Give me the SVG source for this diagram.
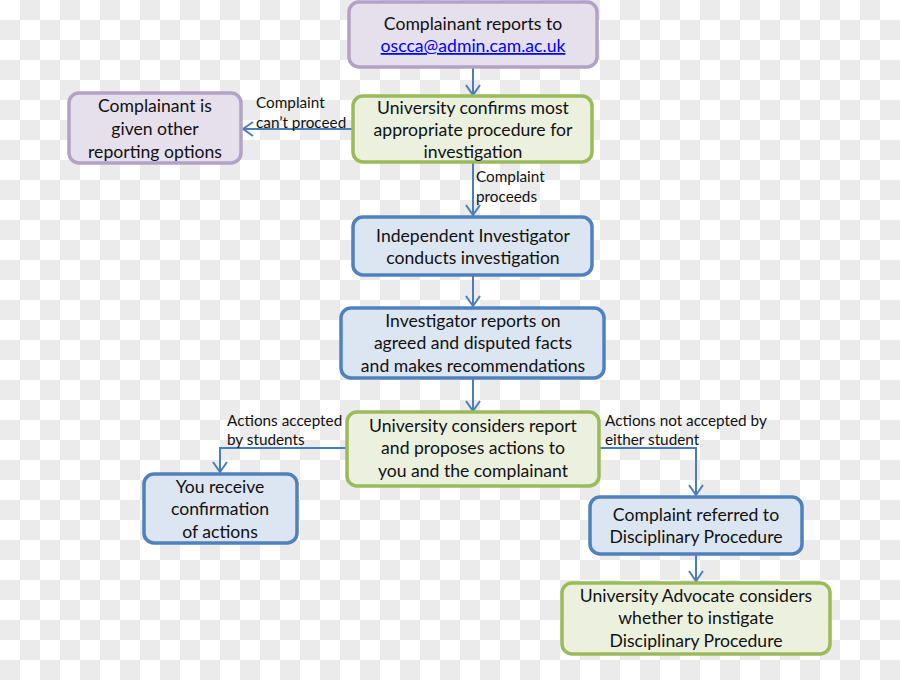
<svg xmlns="http://www.w3.org/2000/svg" width="900" height="680" viewBox="0 0 900 680">
<defs>
<pattern id="chk" x="0" y="0" width="40" height="40" patternUnits="userSpaceOnUse">
<rect width="40" height="40" fill="#ffffff"/>
<rect x="20" y="0" width="20" height="20" fill="#ebebeb"/>
<rect x="0" y="20" width="20" height="20" fill="#ebebeb"/>
</pattern>
<marker id="arr" viewBox="0 0 12 16" refX="11" refY="8" markerWidth="12" markerHeight="16" markerUnits="userSpaceOnUse" orient="auto">
<path d="M1,1 L11,8 L1,15" fill="none" stroke="#4a7ebb" stroke-width="2"/>
</marker>
</defs>
<style>
.purple{fill:#e5e0ec;stroke:#b3a2c7;stroke-width:3.5}
.green{fill:#ebf1de;stroke:#9bbb59;stroke-width:3.5}
.blue{fill:#dce6f2;stroke:#4f81bd;stroke-width:3.5}
.t{font-family:Lato,"Open Sans","Liberation Sans",sans-serif;font-size:17.6px;fill:#111;text-anchor:middle}
.l{font-family:Lato,"Open Sans","Liberation Sans",sans-serif;font-size:15.3px;fill:#111}
.c{fill:none;stroke:#4a7ebb;stroke-width:2}
</style>
<rect width="900" height="680" fill="url(#chk)"/>
<g id="connectors">
<path class="c" d="M473,67 V95" marker-end="url(#arr)"/>
<path class="c" d="M353,129 H243" marker-end="url(#arr)"/>
<path class="c" d="M473,162 V215" marker-end="url(#arr)"/>
<path class="c" d="M473,275 V306" marker-end="url(#arr)"/>
<path class="c" d="M473,378 V411" marker-end="url(#arr)"/>
<path class="c" d="M347,448 H220 V472" marker-end="url(#arr)"/>
<path class="c" d="M599,448 H696 V495" marker-end="url(#arr)"/>
<path class="c" d="M696,554 V581" marker-end="url(#arr)"/>
<text class="l" x="256" y="108">Complaint</text>
<text class="l" x="256" y="128">can’t proceed</text>
<text class="l" x="476" y="182">Complaint</text>
<text class="l" x="476" y="202">proceeds</text>
<text class="l" x="227" y="426">Actions accepted</text>
<text class="l" x="227" y="445">by students</text>
<text class="l" x="605" y="426">Actions not accepted by</text>
<text class="l" x="605" y="445">either student</text>
</g>
<g id="n1">
<rect class="purple" x="349" y="2" width="248" height="65" rx="10"/>
<text class="t" x="473" y="30">Complainant reports to</text>
<text class="t" x="473" y="52" style="fill:#0000ff;text-decoration:underline">oscca@admin.cam.ac.uk</text>
</g>
<g id="n2">
<rect class="green" x="353" y="96" width="239" height="66" rx="10"/>
<text class="t" x="473" y="114">University confirms most</text>
<text class="t" x="473" y="136">appropriate procedure for</text>
<text class="t" x="473" y="158">investigation</text>
</g>
<g id="n3">
<rect class="purple" x="69" y="93" width="172" height="70" rx="10"/>
<text class="t" x="155" y="112">Complainant is</text>
<text class="t" x="155" y="135">given other</text>
<text class="t" x="155" y="158">reporting options</text>
</g>
<g id="n4">
<rect class="blue" x="353" y="217" width="239" height="58" rx="10"/>
<text class="t" x="473" y="242">Independent Investigator</text>
<text class="t" x="473" y="264">conducts investigation</text>
</g>
<g id="n5">
<rect class="blue" x="341" y="308" width="263" height="70" rx="10"/>
<text class="t" x="473" y="327">Investigator reports on</text>
<text class="t" x="473" y="349">agreed and disputed facts</text>
<text class="t" x="473" y="372">and makes recommendations</text>
</g>
<g id="n6">
<rect class="green" x="347" y="412" width="252" height="74" rx="10"/>
<text class="t" x="473" y="432">University considers report</text>
<text class="t" x="473" y="454">and proposes actions to</text>
<text class="t" x="473" y="477">you and the complainant</text>
</g>
<g id="n7">
<rect class="blue" x="144" y="474" width="153" height="69" rx="10"/>
<text class="t" x="220" y="493">You receive</text>
<text class="t" x="220" y="515">confirmation</text>
<text class="t" x="220" y="538">of actions</text>
</g>
<g id="n8">
<rect class="blue" x="590" y="497" width="212" height="57" rx="10"/>
<text class="t" x="696" y="521">Complaint referred to</text>
<text class="t" x="696" y="543">Disciplinary Procedure</text>
</g>
<g id="n9">
<rect class="green" x="562" y="583" width="268" height="71" rx="10"/>
<text class="t" x="696" y="602">University Advocate considers</text>
<text class="t" x="696" y="624">whether to instigate</text>
<text class="t" x="696" y="647">Disciplinary Procedure</text>
</g>
</svg>
